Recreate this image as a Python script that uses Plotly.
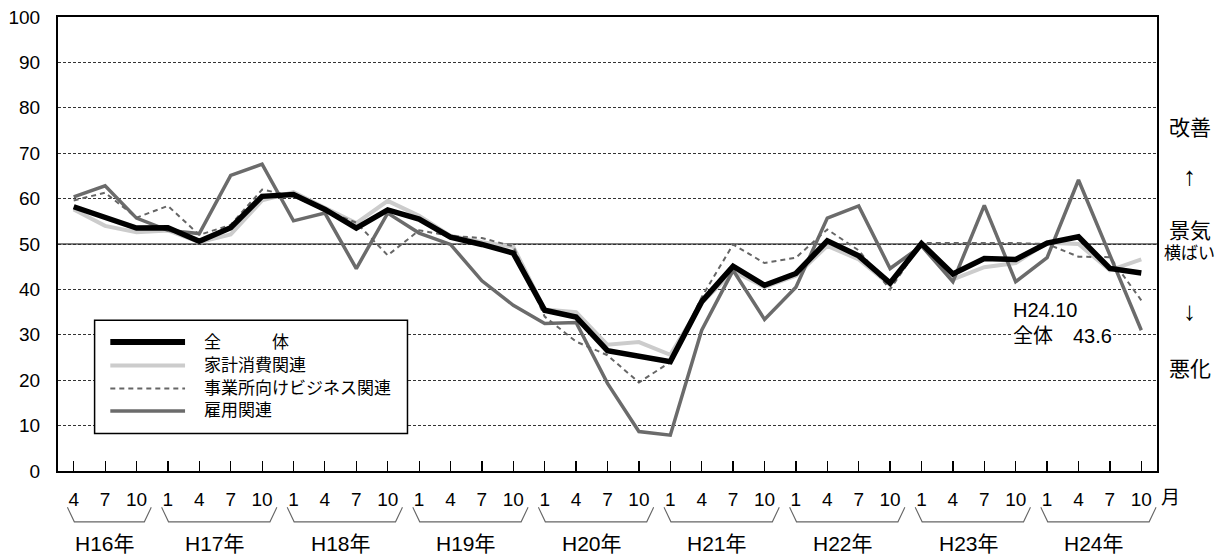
import plotly.graph_objects as go

# ---- data ----
months = ["4", "7", "10"] + ["1", "4", "7", "10"] * 8
years = ["H16年", "H17年", "H18年", "H19年", "H20年", "H21年", "H22年", "H23年", "H24年"]
year_counts = [3, 4, 4, 4, 4, 4, 4, 4, 4]

zentai = [58.2, 56.0, 53.5, 53.6, 50.6, 53.6, 60.5, 60.9, 57.6, 53.5, 57.5, 55.5,
          51.5, 49.9, 48.0, 35.4, 33.9, 26.5, 25.4, 24.1, 37.3, 45.1, 40.9, 43.5,
          50.7, 47.4, 41.4, 50.1, 43.4, 46.8, 46.6, 50.2, 51.6, 44.6, 43.6]
kakei = [57.6, 54.0, 52.6, 53.0, 50.4, 52.1, 59.6, 61.4, 58.0, 54.6, 59.5, 56.2,
         51.8, 50.4, 49.4, 35.6, 35.0, 27.8, 28.4, 25.6, 37.0, 44.0, 40.5, 43.0,
         49.6, 46.6, 41.0, 50.0, 42.2, 44.9, 45.8, 50.3, 50.0, 44.2, 46.6]
jigyosho = [59.6, 61.3, 55.8, 58.4, 52.0, 54.2, 62.0, 60.5, 57.4, 54.7, 47.5, 53.0,
            51.8, 51.3, 49.5, 34.0, 28.5, 25.5, 19.5, 24.0, 38.3, 49.9, 45.8, 47.0,
            53.2, 48.6, 40.0, 50.2, 50.2, 50.2, 50.2, 50.0, 47.2, 47.1, 37.6]
koyo = [60.4, 62.8, 55.7, 53.0, 52.3, 65.1, 67.6, 55.1, 56.8, 44.6, 56.8, 52.4,
        49.9, 41.9, 36.5, 32.5, 32.7, 19.3, 8.7, 7.9, 31.0, 44.2, 33.4, 40.5,
        55.7, 58.4, 44.6, 49.6, 41.7, 58.5, 41.7, 47.0, 64.1, 47.5, 31.0]

x_idx = list(range(len(months)))

FONT = "Liberation Sans, Arial, Noto Sans CJK JP, sans-serif"

fig = go.Figure()

series = [
    ("家計消費関連", kakei, dict(color="#cccccc", width=4)),
    ("雇用関連", koyo, dict(color="#6b6b6b", width=3.5)),
    ("事業所向けビジネス関連", jigyosho, dict(color="#666666", width=2, dash="5px,4px")),
    ("全　　　体", zentai, dict(color="#000000", width=5.5)),
]
for name, vals, line in series:
    fig.add_trace(go.Scatter(x=x_idx, y=vals, mode="lines", name=name,
                             line=line, showlegend=False, hoverinfo="skip"))

shapes = []
# solid horizontal line at 50 (景気横ばい)
shapes.append(dict(type="line", xref="paper", yref="y", x0=0, x1=1, y0=50, y1=50,
                   line=dict(color="black", width=1.2), layer="below"))

# year braces below the axis
start = 0
annotations = []
for yname, cnt in zip(years, year_counts):
    first, last = start, start + cnt - 1
    a, b = first - 0.2, last + 0.47
    s = 0.22
    ytop, ybot = -0.080, -0.112
    shapes.append(dict(type="path", xref="x", yref="paper",
                       path=f"M{a},{ytop} L{a + s},{ybot} L{b - s},{ybot} L{b},{ytop}",
                       line=dict(color="#666666", width=1.1)))
    annotations.append(dict(x=(first + last) / 2, y=-0.159, xref="x", yref="paper",
                            text=yname, showarrow=False, font=dict(size=21),
                            xanchor="center", yanchor="middle"))
    start += cnt

# legend (drawn manually)
shapes.append(dict(type="rect", xref="paper", yref="paper", x0=0.0333, x1=0.318,
                   y0=0.0824, y1=0.332, fillcolor="white",
                   line=dict(color="black", width=1.5), layer="above"))
leg_rows = [0.284, 0.2326, 0.1815, 0.1322]
leg_order = [series[3], series[0], series[2], series[1]]
for (name, vals, line), ly in zip(leg_order, leg_rows):
    lw = dict(line)
    if name.startswith("全"):
        lw["width"] = 6
    shapes.append(dict(type="line", xref="paper", yref="paper", x0=0.0476, x1=0.1156,
                       y0=ly, y1=ly, line=lw, layer="above"))
    annotations.append(dict(x=0.131, y=ly, xref="paper", yref="paper", text=name,
                            showarrow=False, xanchor="left", yanchor="middle",
                            font=dict(size=17)))

# right-side labels
for txt, yy, sz in [("改善", 0.757, 21), ("↑", 0.649, 26), ("景気", 0.530, 21),
                    ("横ばい", 0.479, 17), ("↓", 0.352, 26), ("悪化", 0.226, 21)]:
    annotations.append(dict(x=1.030, y=yy, xref="paper", yref="paper", text=txt,
                            showarrow=False, xanchor="center", yanchor="middle",
                            font=dict(size=sz)))

# 月 label
annotations.append(dict(x=1.012, y=-0.058, xref="paper", yref="paper", text="月",
                        showarrow=False, xanchor="center", yanchor="middle",
                        font=dict(size=19)))

# latest value note
annotations.append(dict(x=0.868, y=0.326, xref="paper", yref="paper",
                        text=f"H24.10<br>全体　{zentai[-1]:.1f}", align="left",
                        showarrow=False, xanchor="left", yanchor="middle",
                        bgcolor="white", borderpad=0, font=dict(size=20)))

fig.update_layout(
    width=1224, height=557,
    margin=dict(l=58, r=67, t=17, b=86, autoexpand=False),
    paper_bgcolor="white", plot_bgcolor="white",
    font=dict(family=FONT, color="black", size=19),
    shapes=shapes, annotations=annotations,
    showlegend=False,
)
fig.update_xaxes(range=[-0.5, 34.5], tickvals=x_idx, ticktext=months,
                 ticks="inside", ticklen=10, tickwidth=1.2, tickcolor="black",
                 ticklabelstandoff=10, automargin=False,
                 showgrid=False, zeroline=False, showline=True, mirror=True,
                 linecolor="black", linewidth=2, tickfont=dict(size=19))
fig.update_yaxes(range=[0, 100], tickvals=list(range(0, 101, 10)),
                 ticks="", showgrid=True, gridcolor="#333333", gridwidth=1,
                 griddash="3px,2px", zeroline=False, showline=True, mirror=True,
                 linecolor="black", linewidth=2, ticklabelstandoff=12,
                 automargin=False, tickfont=dict(size=19))

fig.write_html("out.html", config={"displayModeBar": False, "staticPlot": True},
               post_script="document.body.style.margin='0';document.body.style.overflow='hidden';")
